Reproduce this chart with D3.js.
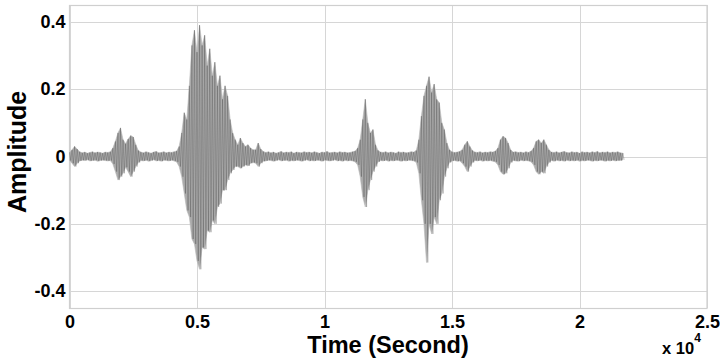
<!DOCTYPE html>
<html><head><meta charset="utf-8">
<script src="https://cdn.jsdelivr.net/npm/d3@7"></script>
<style>
html,body{margin:0;padding:0;background:#fff;}
text{font-family:"Liberation Sans",Arial,sans-serif;font-weight:bold;fill:#000;}
</style></head>
<body><svg id="c" width="720" height="359"></svg>
<script>
// sample spacing of the envelope values (samples)
const sampleStep = 100;
// upper envelope of the waveform, one value per 100 samples
const envHi = [
0.012,0.02,0.03,0.022,0.014,0.011,0.013,0.010,0.012,0.014,0.011,0.013,0.012,0.010,0.013,0.012,0.014,
0.025,0.045,0.07,0.085,0.05,0.038,0.052,0.062,0.058,0.035,0.018,
0.013,0.011,0.014,0.012,0.010,0.013,0.015,0.011,0.012,0.014,0.011,0.013,0.012,0.014,0.016,
0.03,0.07,0.13,0.11,0.21,0.33,0.375,0.31,0.39,0.33,0.36,0.27,0.32,0.24,0.28,0.21,0.24,0.17,0.21,0.18,0.11,0.07,0.05,0.035,0.055,0.04,0.03,0.035,0.025,0.02,
0.02,0.04,0.022,0.015,
0.012,0.014,0.011,0.013,0.010,0.012,0.015,0.011,0.013,0.012,0.014,0.010,0.013,0.012,0.011,0.014,0.012,0.013,
0.011,0.014,0.012,0.010,0.013,0.012,0.015,0.011,0.012,0.013,0.011,0.014,0.012,0.013,0.011,0.012,0.014,0.016,
0.025,0.05,0.11,0.17,0.10,0.07,0.08,0.035,0.018,
0.013,0.012,0.014,0.011,0.013,0.012,0.010,0.014,0.012,0.013,0.011,0.012,0.014,0.013,0.018,
0.05,0.12,0.18,0.21,0.237,0.19,0.215,0.17,0.16,0.10,0.08,0.04,0.02,
0.014,0.012,0.013,0.015,
0.02,0.035,0.045,0.03,0.018,
0.013,0.012,0.014,0.011,0.013,0.012,0.014,0.013,0.016,
0.025,0.05,0.06,0.055,0.04,0.02,
0.013,0.014,0.012,0.013,0.011,0.014,0.012,0.016,
0.025,0.045,0.05,0.04,0.05,0.035,0.02,
0.013,0.012,0.014,0.011,0.013,0.015,0.012,0.011,0.014,0.012,0.013,0.010,0.014,0.012,0.013,0.011,0.014,0.012,0.015,0.011,0.013,0.012,0.014,0.011,0.013,0.012,0.014,0.011,0.010
];
// lower envelope of the waveform, one value per 100 samples
const envLo = [
-0.012,-0.02,-0.03,-0.02,-0.013,-0.011,-0.012,-0.010,-0.013,-0.012,-0.011,-0.014,-0.012,-0.011,-0.012,-0.013,-0.012,
-0.022,-0.045,-0.07,-0.06,-0.05,-0.032,-0.045,-0.06,-0.045,-0.03,-0.018,
-0.012,-0.013,-0.011,-0.014,-0.012,-0.010,-0.013,-0.012,-0.014,-0.011,-0.012,-0.013,-0.011,-0.013,-0.016,
-0.03,-0.06,-0.11,-0.16,-0.18,-0.245,-0.26,-0.31,-0.335,-0.27,-0.275,-0.22,-0.225,-0.19,-0.2,-0.15,-0.14,-0.10,-0.10,-0.07,-0.05,-0.04,-0.03,-0.03,-0.035,-0.03,-0.025,-0.028,-0.02,-0.018,
-0.02,-0.03,-0.02,-0.014,
-0.013,-0.011,-0.012,-0.014,-0.012,-0.010,-0.013,-0.012,-0.011,-0.014,-0.012,-0.013,-0.011,-0.012,-0.014,-0.012,-0.010,-0.013,
-0.012,-0.013,-0.011,-0.012,-0.014,-0.011,-0.012,-0.013,-0.012,-0.010,-0.013,-0.012,-0.014,-0.011,-0.013,-0.012,-0.013,-0.016,
-0.025,-0.06,-0.12,-0.15,-0.10,-0.07,-0.045,-0.03,-0.016,
-0.012,-0.013,-0.011,-0.014,-0.012,-0.013,-0.011,-0.012,-0.014,-0.012,-0.013,-0.011,-0.012,-0.013,-0.018,
-0.05,-0.13,-0.2,-0.315,-0.2,-0.23,-0.18,-0.2,-0.13,-0.11,-0.06,-0.035,-0.018,
-0.013,-0.012,-0.014,-0.013,
-0.02,-0.03,-0.045,-0.03,-0.018,
-0.012,-0.013,-0.011,-0.014,-0.012,-0.013,-0.012,-0.014,-0.016,
-0.025,-0.045,-0.053,-0.05,-0.035,-0.018,
-0.012,-0.013,-0.014,-0.011,-0.013,-0.012,-0.013,-0.016,
-0.025,-0.045,-0.053,-0.045,-0.05,-0.03,-0.018,
-0.012,-0.014,-0.011,-0.013,-0.012,-0.014,-0.011,-0.013,-0.012,-0.013,-0.011,-0.014,-0.012,-0.013,-0.011,-0.012,-0.014,-0.012,-0.013,-0.011,-0.012,-0.014,-0.012,-0.013,-0.011,-0.013,-0.012,-0.012,-0.010
];
const xTicks = [0, 5000, 10000, 15000, 20000, 25000];
const xTickLabels = ["0", "0.5", "1", "1.5", "2", "2.5"];
const yTicks = [-0.4, -0.2, 0, 0.2, 0.4];
const yTickLabels = ["-0.4", "-0.2", "0", "0.2", "0.4"];
const xLabel = "Time (Second)";
const yLabel = "Amplitude";

const svg = d3.select("#c");
const L = 69.5, R = 707, T = 5, B = 308;
const x = d3.scaleLinear().domain([0, 25000]).range([L, R]);
const y = d3.scaleLinear().domain([-0.45, 0.45]).range([B, T]);

// grid
const g = svg.append("g");
g.selectAll("line.vx").data(xTicks).join("line")
  .attr("x1", d => Math.round(x(d)) + 0.5).attr("x2", d => Math.round(x(d)) + 0.5)
  .attr("y1", T).attr("y2", B).attr("stroke", "#d6d6d6").attr("stroke-width", 1);
g.selectAll("line.hy").data(yTicks).join("line")
  .attr("y1", d => Math.round(y(d)) + 0.5).attr("y2", d => Math.round(y(d)) + 0.5)
  .attr("x1", L).attr("x2", R).attr("stroke", "#d6d6d6").attr("stroke-width", 1);
// frame
svg.append("rect").attr("x", L).attr("y", T + 0.5).attr("width", R - L).attr("height", B - T)
  .attr("fill", "none").attr("stroke", "#cfcfcf").attr("stroke-width", 1.2);

// waveform
const pts = envHi.map((h, i) => ({ t: i * sampleStep, hi: h, lo: envLo[i] }));
svg.append("path").datum(pts)
  .attr("d", d3.area().x(d => x(d.t)).y0(d => y(d.lo)).y1(d => y(d.hi)))
  .attr("fill", "#ababab").attr("stroke", "#b8b8b8").attr("stroke-width", 0.6);
const zig = [];
pts.forEach(p => { zig.push([p.t, p.hi]); zig.push([p.t + sampleStep / 2, p.lo]); });
svg.append("path").datum(zig)
  .attr("d", d3.line().x(d => x(d[0])).y(d => y(d[1])))
  .attr("fill", "none").attr("stroke", "#3a3a3a").attr("stroke-width", 0.45).attr("opacity", 0.6);

// axes labels
const xa = svg.append("g").attr("transform", `translate(0,${B})`)
  .call(d3.axisBottom(x).tickValues(xTicks).tickFormat((d, i) => xTickLabels[i]).tickSize(0).tickPadding(7));
xa.select(".domain").remove();
xa.selectAll("text").attr("font-size", 18).style("font-family", "Liberation Sans, Arial").attr("font-weight", "bold").attr("fill", "#000");
const ya = svg.append("g").attr("transform", `translate(${L},0)`)
  .call(d3.axisLeft(y).tickValues(yTicks).tickFormat((d, i) => yTickLabels[i]).tickSize(0).tickPadding(4));
ya.select(".domain").remove();
ya.selectAll("text").attr("font-size", 18).style("font-family", "Liberation Sans, Arial").attr("font-weight", "bold").attr("fill", "#000");

svg.append("text").attr("x", 388).attr("y", 353).attr("text-anchor", "middle")
  .attr("font-size", 23.5).text(xLabel);
svg.append("text").attr("transform", "translate(26,152) rotate(-90)").attr("text-anchor", "middle")
  .attr("font-size", 25).text(yLabel);
const ex = svg.append("text").attr("x", 662).attr("y", 354).attr("font-size", 16.5);
ex.append("tspan").text("x 10");
ex.append("tspan").attr("dy", -12).attr("font-size", 12).text("4");
</script></body></html>
